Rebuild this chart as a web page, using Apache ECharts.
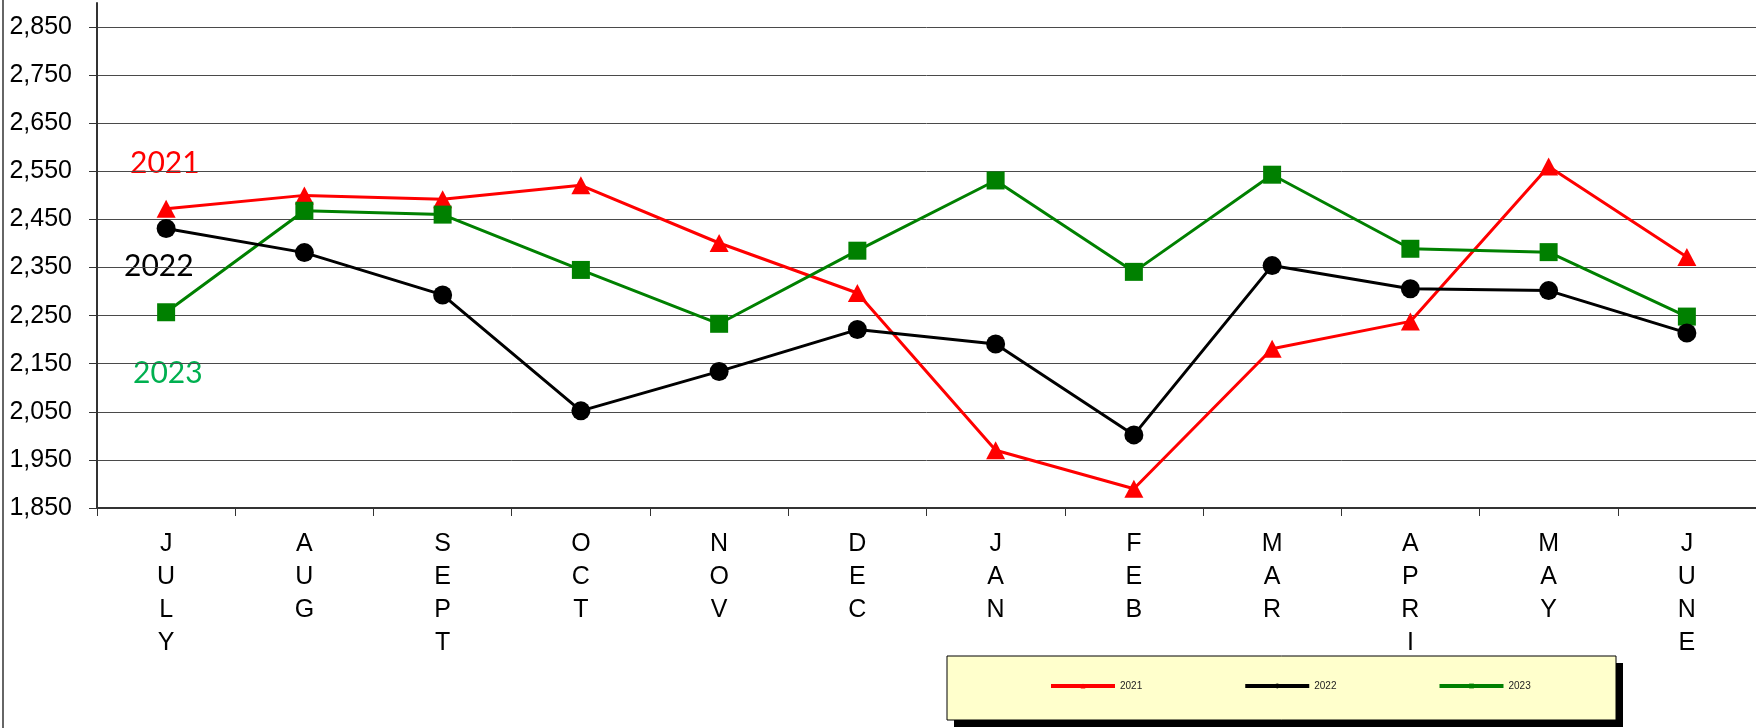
<!DOCTYPE html>
<html>
<head>
<meta charset="utf-8">
<script src="https://cdn.jsdelivr.net/npm/echarts@6/dist/echarts.min.js"></script>
<style>
  html, body { margin: 0; padding: 0; background: #fff; }
  #chart { width: 1756px; height: 728px; }
</style>
</head>
<body>
<div id="chart"></div>
<script>
// months on the x axis
var months = ['JULY', 'AUG', 'SEPT', 'OCT', 'NOV', 'DEC', 'JAN', 'FEB', 'MAR', 'APRIL', 'MAY', 'JUNE']

// values
var y2021 = [2472, 2500, 2492, 2521, 2401, 2297, 1970, 1890, 2181, 2238, 2560, 2372]
var y2022 = [2431, 2381, 2293, 2052, 2134, 2221, 2191, 2002, 2354, 2306, 2302, 2214]
var y2023 = [2257, 2468, 2460, 2345, 2233, 2385, 2531, 2341, 2543, 2389, 2382, 2248]

// y axis ticks
var yMin = 1850
var yMax = 2900
var yStep = 100

var myChart = echarts.init(document.getElementById('chart'))

myChart.setOption({
  backgroundColor: '#ffffff',
  animation: false,
  textStyle: { fontFamily: 'Liberation Sans, Arial, sans-serif' },
  grid: {
    left: 97,
    right: 0,
    top: 3,
    bottom: 220
  },
  legend: {
    data: ['2021', '2022', '2023'],
    left: 947,
    top: 656,
    orient: 'horizontal',
    padding: [25, 88, 25, 102],
    itemGap: 101,
    itemWidth: 64,
    itemHeight: 6,
    lineStyle: { width: 4 },
    textStyle: { fontSize: 10, color: '#222', fontFamily: 'Liberation Sans, Arial' }
  },
  xAxis: {
    type: 'category',
    data: months,
    boundaryGap: true,
    axisLine: { lineStyle: { color: '#333', width: 2 } },
    axisTick: { show: true, length: 8, lineStyle: { color: '#333', width: 1 } },
    axisLabel: {
      interval: 0,
      margin: 20,
      fontSize: 25,
      lineHeight: 33,
      color: '#000',
      formatter: function (v) {
        return v.split('').join('\n')
      }
    },
    splitLine: { show: false }
  },
  yAxis: {
    type: 'value',
    min: yMin,
    max: yMax,
    interval: yStep,
    axisLine: { show: true, lineStyle: { color: '#333', width: 2 } },
    axisTick: { show: true, length: 8, lineStyle: { color: '#333' } },
    axisLabel: {
      margin: 25,
      fontSize: 25,
      color: '#000',
      showMaxLabel: false,
      formatter: function (v) {
        return v.toLocaleString('en-US')
      }
    },
    splitLine: {
      show: true,
      showMaxLine: false,
      lineStyle: { color: '#4a4a4a', width: 1 }
    }
  },
  series: [{
    name: '2021',
    type: 'line',
    z: 2,
    data: y2021,
    symbol: 'triangle',
    symbolSize: [19, 18],
    lineStyle: { color: '#ff0000', width: 3 },
    itemStyle: { color: '#ff0000' }
  }, {
    name: '2022',
    type: 'line',
    z: 4,
    data: y2022,
    symbol: 'circle',
    symbolSize: 19,
    lineStyle: { color: '#000000', width: 3 },
    itemStyle: { color: '#000000' }
  }, {
    name: '2023',
    type: 'line',
    z: 3,
    data: y2023,
    symbol: 'rect',
    symbolSize: 18,
    lineStyle: { color: '#008000', width: 3 },
    itemStyle: { color: '#008000' }
  }],
  graphic: [
    // outer frame on the left edge
    { type: 'line', shape: { x1: 3, y1: 0, x2: 3, y2: 728 }, style: { stroke: '#333', lineWidth: 1.5 } },
    // legend box with its drop shadow
    { type: 'rect', z: 1, shape: { x: 954, y: 663, width: 669, height: 64 }, style: { fill: '#000' } },
    { type: 'rect', z: 1, shape: { x: 947, y: 656, width: 669, height: 64 }, style: { fill: '#FFFFCC', stroke: '#000', lineWidth: 1 } },
    // year notes beside the first month
    { type: 'text', left: 130, top: 148, style: { text: '2021', fill: '#ff0000', font: '30px Lato' } },
    { type: 'text', left: 124, top: 251, style: { text: '2022', fill: '#000000', font: '30px Lato' } },
    { type: 'text', left: 133, top: 358, style: { text: '2023', fill: '#00B050', font: '30px Lato' } }
  ]
})
</script>
</body>
</html>
